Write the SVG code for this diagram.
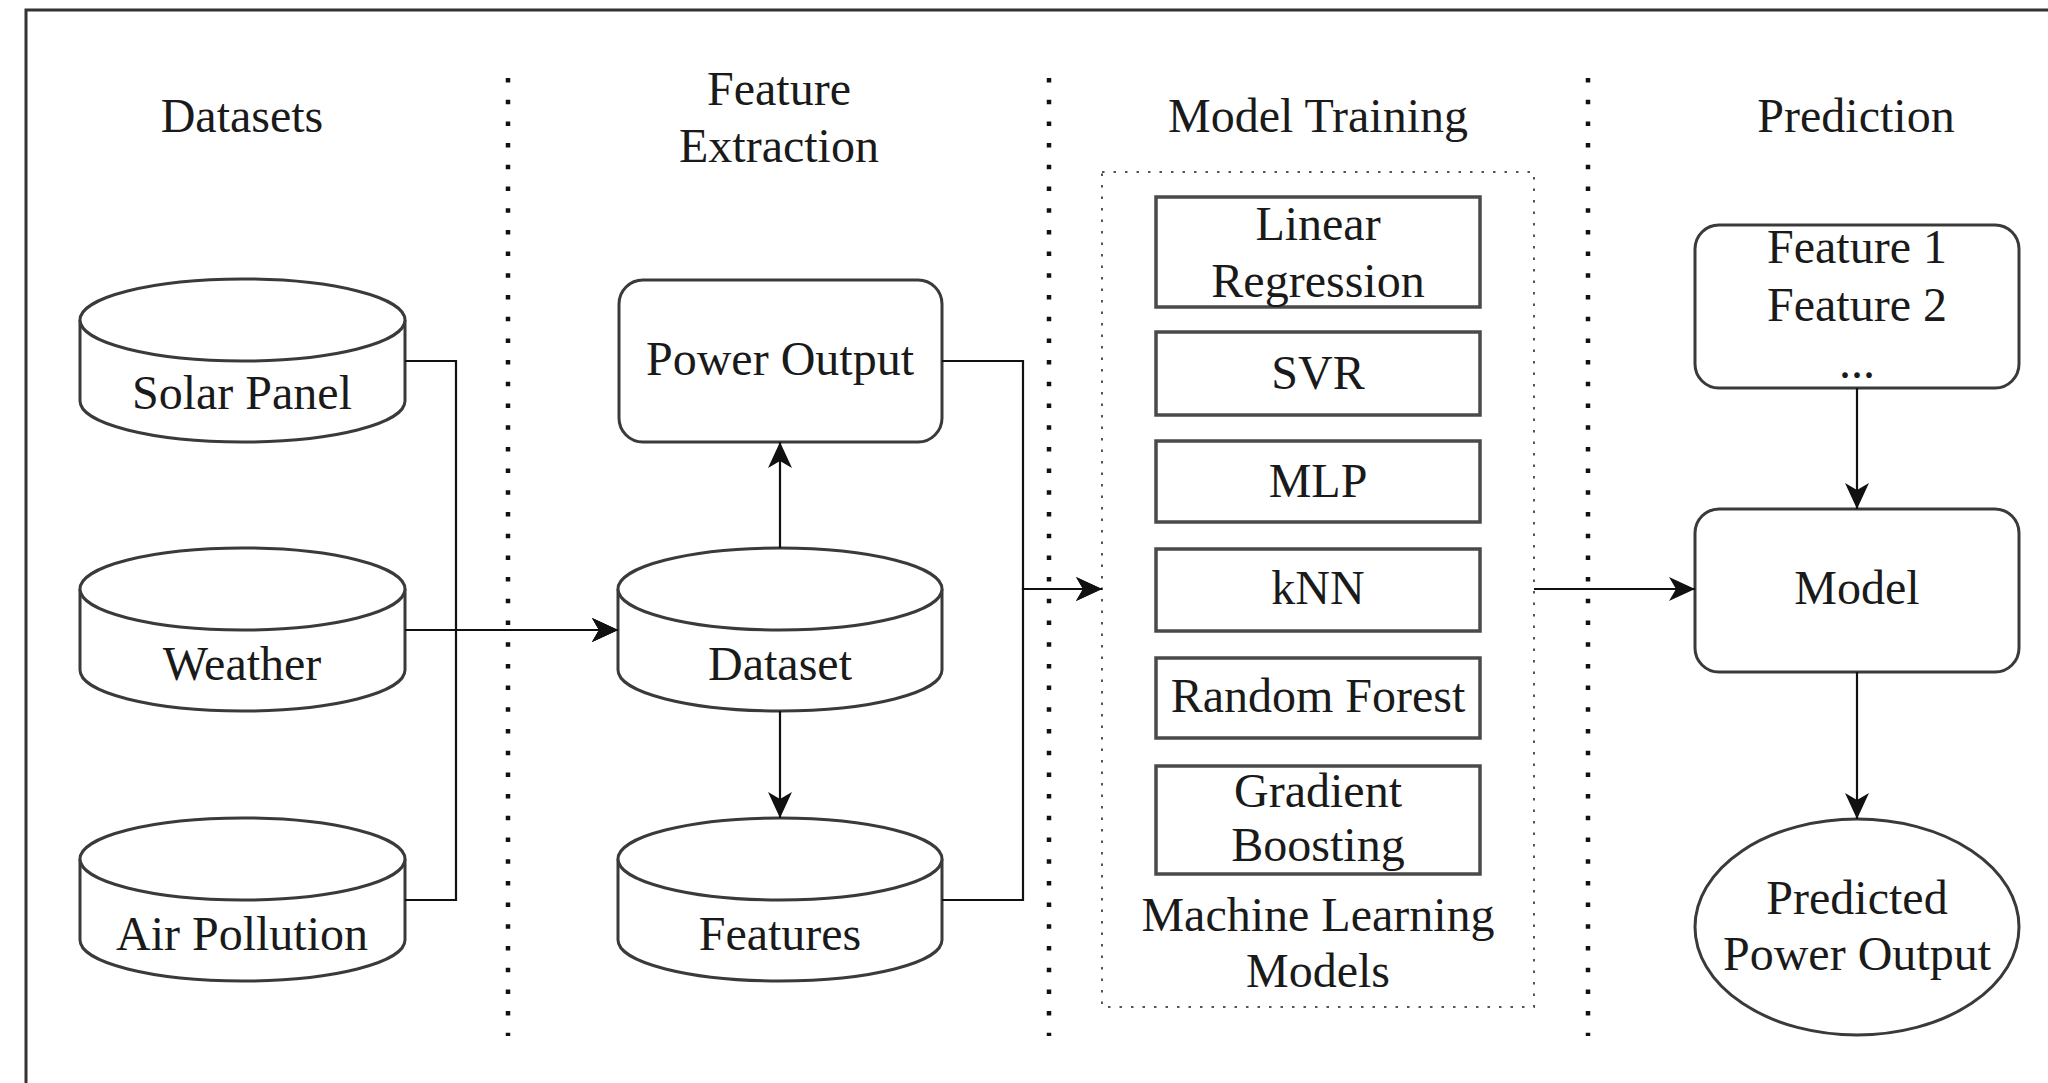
<svg xmlns="http://www.w3.org/2000/svg" width="2048" height="1083" viewBox="0 0 2048 1083">
<defs>
<style>
.t{font-family:"Liberation Serif","Times New Roman",serif;font-size:48px;fill:#1a1a1a;text-anchor:middle}
.shape{fill:#fff;stroke:#3a3a3a;stroke-width:3}
.box{fill:#fff;stroke:#4a4a4a;stroke-width:3.5}
.conn{fill:none;stroke:#111;stroke-width:2.2}
.sep{fill:none;stroke:#111;stroke-width:4.5;stroke-dasharray:4.5 17.2}
.grp{fill:none;stroke:#555;stroke-width:2;stroke-dasharray:2.5 9}
</style>
<marker id="arr" markerUnits="userSpaceOnUse" markerWidth="27" markerHeight="26" viewBox="0 0 27 26" refX="26" refY="13" orient="auto">
<path d="M0,1 L26,13 L0,25 L7,13 Z" fill="#111"/>
</marker>
</defs>
<rect width="2048" height="1083" fill="#fff"/>
<rect x="26" y="10" width="2100" height="1200" fill="none" stroke="#333" stroke-width="3"/>

<g id="separators">
<line class="sep" x1="508" y1="78" x2="508" y2="1036"/>
<line class="sep" x1="1049" y1="78" x2="1049" y2="1036"/>
<line class="sep" x1="1588" y1="78" x2="1588" y2="1036"/>
</g>

<g id="headers">
<text class="t" x="242" y="132">Datasets</text>
<text class="t" x="779" y="105">Feature</text>
<text class="t" x="779" y="162">Extraction</text>
<text class="t" x="1318" y="132">Model Training</text>
<text class="t" x="1856" y="132">Prediction</text>
</g>

<g id="solar-panel">
<path class="shape" d="M80,320 L80,401 A162.5,41 0 0 0 405,401 L405,320"/>
<ellipse class="shape" cx="242.5" cy="320" rx="162.5" ry="41"/>
<text class="t" x="242" y="409">Solar Panel</text>
</g>
<g id="weather">
<path class="shape" d="M80,589 L80,670 A162.5,41 0 0 0 405,670 L405,589"/>
<ellipse class="shape" cx="242.5" cy="589" rx="162.5" ry="41"/>
<text class="t" x="242" y="680">Weather</text>
</g>
<g id="air-pollution">
<path class="shape" d="M80,859 L80,940 A162.5,41 0 0 0 405,940 L405,859"/>
<ellipse class="shape" cx="242.5" cy="859" rx="162.5" ry="41"/>
<text class="t" x="242" y="950">Air Pollution</text>
</g>

<g id="power-output">
<rect class="shape" x="619" y="280" width="323" height="162" rx="24"/>
<text class="t" x="780" y="375">Power Output</text>
</g>
<g id="dataset">
<path class="shape" d="M618,589 L618,670 A162,41 0 0 0 942,670 L942,589"/>
<ellipse class="shape" cx="780" cy="589" rx="162" ry="41"/>
<text class="t" x="780" y="680">Dataset</text>
</g>
<g id="features">
<path class="shape" d="M618,859 L618,940 A162,41 0 0 0 942,940 L942,859"/>
<ellipse class="shape" cx="780" cy="859" rx="162" ry="41"/>
<text class="t" x="780" y="950">Features</text>
</g>

<g id="ml-models">
<rect class="grp" x="1102" y="172" width="432" height="835"/>
<text class="t" x="1318" y="931">Machine Learning</text>
<text class="t" x="1318" y="987">Models</text>
</g>
<g id="linear-regression">
<rect class="box" x="1156" y="197" width="324" height="110"/>
<text class="t" x="1318" y="240">Linear</text>
<text class="t" x="1318" y="297">Regression</text>
</g>
<g id="svr">
<rect class="box" x="1156" y="332" width="324" height="83"/>
<text class="t" x="1318" y="389">SVR</text>
</g>
<g id="mlp">
<rect class="box" x="1156" y="441" width="324" height="81"/>
<text class="t" x="1318" y="497">MLP</text>
</g>
<g id="knn">
<rect class="box" x="1156" y="549" width="324" height="82"/>
<text class="t" x="1318" y="604">kNN</text>
</g>
<g id="random-forest">
<rect class="box" x="1156" y="658" width="324" height="80"/>
<text class="t" x="1318" y="712">Random Forest</text>
</g>
<g id="gradient-boosting">
<rect class="box" x="1156" y="766" width="324" height="108"/>
<text class="t" x="1318" y="807">Gradient</text>
<text class="t" x="1318" y="861">Boosting</text>
</g>

<g id="feature-list">
<rect class="shape" x="1695" y="225" width="324" height="163" rx="24"/>
<text class="t" x="1857" y="263">Feature 1</text>
<text class="t" x="1857" y="321">Feature 2</text>
<text class="t" x="1857" y="378">...</text>
</g>
<g id="model">
<rect class="shape" x="1695" y="509" width="324" height="163" rx="24"/>
<text class="t" x="1857" y="604">Model</text>
</g>
<g id="predicted">
<ellipse class="shape" cx="1857" cy="927" rx="162" ry="108"/>
<text class="t" x="1857" y="914">Predicted</text>
<text class="t" x="1857" y="970">Power Output</text>
</g>

<g id="connectors">
<path class="conn" d="M405,361 H456 V630 H618" marker-end="url(#arr)"/>
<path class="conn" d="M405,630 H618" marker-end="url(#arr)"/>
<path class="conn" d="M405,900 H456 V630 H618" marker-end="url(#arr)"/>
<path class="conn" d="M780,548 V442" marker-end="url(#arr)"/>
<path class="conn" d="M780,711 V818" marker-end="url(#arr)"/>
<path class="conn" d="M942,361 H1023 V589 H1102" marker-end="url(#arr)"/>
<path class="conn" d="M942,900 H1023 V589 H1102" marker-end="url(#arr)"/>
<path class="conn" d="M1534,589 H1695" marker-end="url(#arr)"/>
<path class="conn" d="M1857,388 V509" marker-end="url(#arr)"/>
<path class="conn" d="M1857,672 V819" marker-end="url(#arr)"/>
</g>
</svg>
